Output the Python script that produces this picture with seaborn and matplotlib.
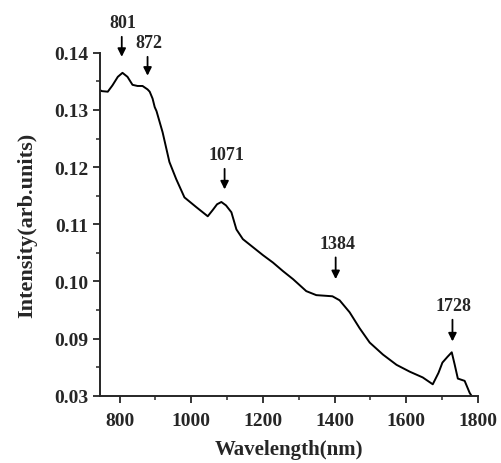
import pandas as pd
import matplotlib.pyplot as plt
import seaborn as sns
from matplotlib.ticker import MultipleLocator, FixedLocator

# ----------------------------------------------------------
# Data
# ----------------------------------------------------------
wavelength = [745, 750, 767, 780, 795, 808, 822, 836, 850, 864, 878, 884,
              892, 898, 903, 920, 939, 958, 981, 1014, 1046, 1060, 1072,
              1084, 1097, 1112, 1126, 1144, 1172, 1200, 1228, 1256, 1284,
              1321, 1349, 1372, 1394, 1414, 1442, 1470, 1498, 1535, 1573,
              1610, 1646, 1674, 1690, 1701, 1715, 1727, 1735, 1744, 1763,
              1777, 1782]
intensity = [0.1335, 0.1333, 0.1332, 0.1343, 0.1358, 0.1365, 0.1358, 0.1344,
             0.1342, 0.1342, 0.1336, 0.1332, 0.1320, 0.1305, 0.1298, 0.1261,
             0.1209, 0.1179, 0.1147, 0.1130, 0.1114, 0.1125, 0.1135, 0.1139,
             0.1133, 0.1121, 0.1091, 0.1074, 0.1060, 0.1046, 0.1033, 0.1018,
             0.1004, 0.0983, 0.0976, 0.0975, 0.0974, 0.0967, 0.0946, 0.0918,
             0.0893, 0.0872, 0.0854, 0.0842, 0.0832, 0.0820, 0.0840, 0.0858,
             0.0868, 0.0876, 0.0855, 0.0830, 0.0826, 0.0805, 0.0800]

peak_labels = ["801", "872", "1071", "1384", "1728"]
peak_x = [806, 878, 1093, 1403, 1729]
arrow_top = [0.1428, 0.1393, 0.1197, 0.1042, 0.0933]
arrow_tip = [0.1393, 0.1360, 0.1161, 0.1004, 0.0895]

ytick_vals = [0.08, 0.09, 0.10, 0.11, 0.12, 0.13, 0.14]
ytick_text = ["0.03", "0.09", "0.10", "0.11", "0.12", "0.13", "0.14"]

df = pd.DataFrame({"Wavelength": wavelength, "Intensity": intensity})

# ----------------------------------------------------------
# Plot
# ----------------------------------------------------------
sns.set_style("ticks")
plt.rcParams['font.family'] = ['Liberation Serif', 'DejaVu Serif']
plt.rcParams['font.weight'] = 'bold'

fig = plt.figure(figsize=(5.02, 4.64), dpi=100)
ax = fig.add_axes([0.199, 0.145, 0.753, 0.739])

sns.lineplot(data=df, x="Wavelength", y="Intensity", color="black",
             linewidth=1.4, ax=ax)

for lab, x, top, tip in zip(peak_labels, peak_x, arrow_top, arrow_tip):
    ax.annotate("", xy=(x, tip), xytext=(x, top),
                arrowprops=dict(arrowstyle="-|>", color="black", lw=1.3,
                                mutation_scale=12, shrinkA=0, shrinkB=0),
                annotation_clip=False)
    ax.text(x + 4, top + 0.0010, lab, ha="center", va="bottom",
            fontsize=13, fontweight="bold", clip_on=False)

ax.set_xlim(745, 1800)
ax.set_ylim(0.08, 0.14)
ax.xaxis.set_major_locator(MultipleLocator(200))
ax.xaxis.set_minor_locator(MultipleLocator(100))
ax.yaxis.set_major_locator(FixedLocator(ytick_vals))
ax.set_yticklabels(ytick_text)
ax.yaxis.set_minor_locator(MultipleLocator(0.005))

ax.tick_params(which="major", direction="out", length=5, width=1.3,
               labelsize=14)
ax.tick_params(axis="x", which="major", pad=7)
ax.tick_params(which="minor", direction="out", length=3, width=1.1)
for t in ax.get_xticklabels() + ax.get_yticklabels():
    t.set_fontweight("bold")

sns.despine(ax=ax)
for side in ["left", "bottom"]:
    ax.spines[side].set_linewidth(1.4)

ax.set_xlabel("Wavelength(nm)", fontsize=15, fontweight="bold", labelpad=7)
ax.set_ylabel("Intensity(arb.units)", fontsize=16, fontweight="bold",
              labelpad=12)

plt.savefig("out.png", dpi=100)
